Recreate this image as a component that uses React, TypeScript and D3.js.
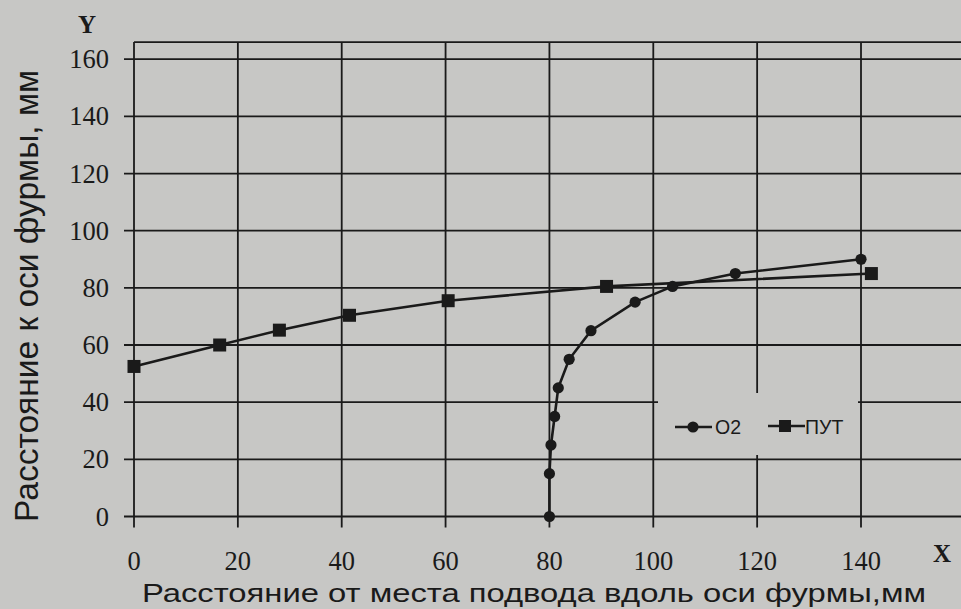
import React from "react";
import * as d3 from "d3";

// ---- data ----
const xTicks = [0, 20, 40, 60, 80, 100, 120, 140];
const yTicks = [0, 20, 40, 60, 80, 100, 120, 140, 160];

const o2X = [80, 80, 80.3, 81, 81.7, 83.8, 88, 96.5, 103.7, 115.8, 140];
const o2Y = [0, 15, 25, 35, 45, 55, 65, 75, 80.5, 85, 90];

const putX = [0, 16.5, 28, 41.5, 60.5, 91, 142];
const putY = [52.5, 60, 65.2, 70.4, 75.5, 80.5, 85];

const seriesNames = ["O2", "ПУТ"];
const xTitle = "Расстояние от места подвода вдоль оси фурмы,мм";
const yTitle = "Расстояние к оси фурмы, мм";

const W = 961;
const H = 609;
const BG = "#c7c7c5";
const INK = "#1a1a1a";

export default function App() {
  const x = d3.scaleLinear().domain([0, 140]).range([134, 861]);
  const y = d3.scaleLinear().domain([0, 160]).range([516.5, 59.2]);
  const xMax = 160;
  const yMax = 166;

  const line = d3
    .line<[number, number]>()
    .x((d) => x(d[0]))
    .y((d) => y(d[1]));

  const o2 = o2X.map((v, i) => [v, o2Y[i]] as [number, number]);
  const put = putX.map((v, i) => [v, putY[i]] as [number, number]);

  const left = x(0);
  const right = x(xMax);
  const top = y(yMax);
  const bottom = y(0);

  // legend box
  const lgX = 658;
  const lgY = 393;
  const lgW = 200;
  const lgH = 62;

  return (
    <svg
      width={W}
      height={H}
      style={{ position: "absolute", left: 0, top: 0, background: BG }}
    >
      <rect x={0} y={0} width={W} height={H} fill={BG} />
      {/* grid */}
      <g stroke={INK} strokeWidth={1.8}>
        {yTicks.map((t) => (
          <line key={"h" + t} x1={left - 10} x2={right} y1={y(t)} y2={y(t)} />
        ))}
        {xTicks.map((t) => (
          <line key={"v" + t} x1={x(t)} x2={x(t)} y1={top} y2={bottom + 11} />
        ))}
        <line x1={left} x2={right} y1={top} y2={top} />
        <line x1={right} x2={right} y1={top} y2={bottom} />
      </g>

      {/* legend background */}
      <rect x={lgX} y={lgY} width={lgW} height={lgH} fill={BG} />

      {/* series */}
      <path d={line(put) || ""} fill="none" stroke={INK} strokeWidth={2.6} />
      <path d={line(o2) || ""} fill="none" stroke={INK} strokeWidth={2.6} />
      {put.map((d, i) => (
        <rect
          key={"s" + i}
          x={x(d[0]) - 6.5}
          y={y(d[1]) - 6.5}
          width={13}
          height={13}
          fill={INK}
        />
      ))}
      {o2.map((d, i) => (
        <circle key={"c" + i} cx={x(d[0])} cy={y(d[1])} r={5.6} fill={INK} />
      ))}

      {/* legend */}
      <g>
        <line x1={675} x2={712} y1={427} y2={427} stroke={INK} strokeWidth={2.6} />
        <circle cx={693} cy={427} r={5.6} fill={INK} />
        <text
          x={715}
          y={434}
          fontFamily="Liberation Sans, Arial, sans-serif"
          fontSize={19.5}
          fill={INK}
        >
          {seriesNames[0]}
        </text>
        <line x1={768} x2={805} y1={426} y2={426} stroke={INK} strokeWidth={2.6} />
        <rect x={779} y={420} width={12} height={12} fill={INK} />
        <text
          x={805}
          y={433.5}
          fontFamily="Liberation Sans, Arial, sans-serif"
          fontSize={19.5}
          fill={INK}
        >
          {seriesNames[1]}
        </text>
      </g>

      {/* y tick labels */}
      <g
        fontFamily="Liberation Serif, Times New Roman, serif"
        fontSize={26.5}
        fill={INK}
        textAnchor="end"
      >
        {yTicks.map((t) => (
          <text key={"yl" + t} x={109} y={y(t) + 9}>
            {t}
          </text>
        ))}
      </g>
      {/* x tick labels */}
      <g
        fontFamily="Liberation Serif, Times New Roman, serif"
        fontSize={26.5}
        fill={INK}
        textAnchor="middle"
      >
        {xTicks.map((t) => (
          <text key={"xl" + t} x={x(t)} y={570}>
            {t}
          </text>
        ))}
      </g>

      {/* axis letters */}
      <text
        x={87}
        y={33}
        textAnchor="middle"
        fontFamily="Liberation Serif, Times New Roman, serif"
        fontWeight="bold"
        fontSize={25}
        fill={INK}
      >
        Y
      </text>
      <text
        x={942}
        y={562}
        textAnchor="middle"
        fontFamily="Liberation Serif, Times New Roman, serif"
        fontWeight="bold"
        fontSize={25}
        fill={INK}
      >
        X
      </text>

      {/* axis titles */}
      <text
        x={142}
        y={602}
        fontFamily="Liberation Sans, Arial, sans-serif"
        fontSize={25}
        fill={INK}
        textLength={784}
        lengthAdjust="spacingAndGlyphs"
      >
        {xTitle}
      </text>
      <text
        transform="translate(38,522) rotate(-90)"
        x={0}
        y={0}
        fontFamily="Liberation Sans, Arial, sans-serif"
        fontSize={34}
        fill={INK}
        textLength={452}
        lengthAdjust="spacingAndGlyphs"
      >
        {yTitle}
      </text>
    </svg>
  );
}
